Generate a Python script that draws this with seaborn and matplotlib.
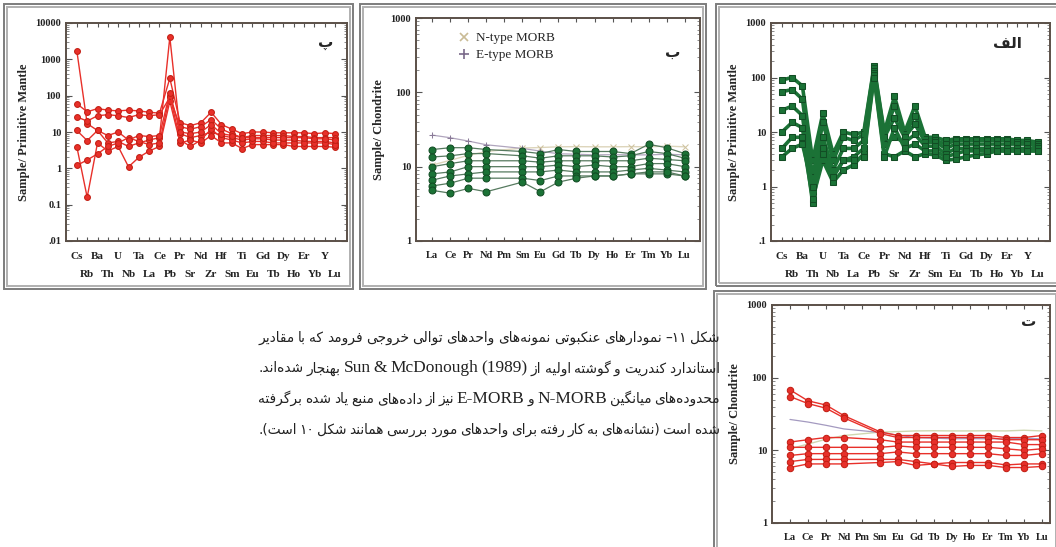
import re
import matplotlib
matplotlib.use('Agg')
import matplotlib.pyplot as plt
from matplotlib.patches import Rectangle
from matplotlib.lines import Line2D
import numpy as np
import pandas as pd
import seaborn as sns

nan = np.nan

# element order on the x axes
pm_elements = ['Cs', 'Rb', 'Ba', 'Th', 'U', 'Nb', 'Ta', 'La', 'Ce', 'Pb', 'Pr', 'Sr', 'Nd',
               'Zr', 'Hf', 'Sm', 'Ti', 'Eu', 'Gd', 'Tb', 'Dy', 'Ho', 'Er', 'Yb', 'Y', 'Lu']
ree_elements = ['La', 'Ce', 'Pr', 'Nd', 'Pm', 'Sm', 'Eu', 'Gd', 'Tb', 'Dy', 'Ho', 'Er', 'Tm', 'Yb', 'Lu']

# panel "pe" - sample / primitive mantle (red)
pe_samples = [
    [1700, 17, 11, 5, 5.5, 4, 5, 6, 7, 4100, 9, 7, 8, 10, 8, 7, 6, 6.5, 6.5, 6, 6, 6, 5.5, 5.5, 5.5, 5],
    [60, 36, 44, 40, 38, 40, 38, 35, 33, 300, 18, 15, 18, 35, 16, 12, 9, 10, 10, 9.5, 9.5, 9.5, 9.5, 9, 9.5, 9],
    [26, 20, 28, 30, 28, 25, 30, 28, 30, 90, 14, 12, 14, 22, 12, 9, 7, 8, 8, 8, 8, 7.5, 7.5, 7, 7, 7],
    [3.9, 0.16, 5, 3, 4, 1.1, 2, 3, 4, 70, 5, 6, 5, 8, 5, 5, 3.5, 4.5, 4.5, 4.5, 4.5, 4, 4, 4, 4, 3.8],
    [1.2, 1.7, 2.5, 4, 5, 7, 5.5, 4.5, 5, 100, 6, 4, 6, 12, 7, 6, 5, 5.5, 5.5, 5, 5, 5, 5, 5, 5, 4.5],
    [11, 5.8, 11, 8, 10, 6, 8, 7.5, 8, 120, 10, 9, 10, 16, 9, 8, 7, 7, 7, 7, 7, 7, 7, 6.5, 6.5, 6],
]

# panel "be" - sample / chondrite (green)
be_samples = [
    [17, 18, 18, 17, nan, 16, 15, 17, 16, 16, 16, 15, 20, 18, 15],
    [13.5, 14, 15, 15, nan, 14, 13, 14, 14, 14, 13.5, 14, 16, 15, 13],
    [10, 11, 12, 12, nan, 12, 11.5, 12, 12, 12, 12, 12, 13, 12.5, 12],
    [8, 8.5, 10, 10, nan, 10, 10, 10.5, 10, 10.5, 10, 10, 11, 11, 10],
    [6.6, 7.5, 8, 8.5, nan, 8.5, 8.5, 9, 8.5, 8.5, 8.5, 9, 9.5, 9, 8.5],
    [5.5, 6, 7, 7, nan, 7, 6.5, 7.5, 7.5, 7.5, 7.5, 8, 8, 8, 7.5],
    [4.8, 4.4, 5.1, 4.6, nan, 6.2, 4.6, 6.2, 7, 7.5, 7.5, 8, 8.5, 8.5, 7.5],
]
n_morb = [10.5, 12.2, 14.2, 16.0, nan, 17.8, 18.1, 18.5, 18.6, 18.5, 18.5, 18.6, 18.5, 18.9, 18.5]
e_morb = [26.6, 24.5, 22.1, 19.7, nan, 17.6, 16.2, 14.9, 14.7, 14.4, 14.5, 14.4, 14.4, 14.7, 14.4]

# panel "alef" - sample / primitive mantle (green squares)
alef_samples = [
    [90, 100, 70, 3, 22, 4, 10, 9, 10, 160, 10, 45, 10, 30, 8, 8, 7, 7.5, 7.5, 7.5, 7.5, 7.5, 7.5, 7, 7, 6.5],
    [55, 60, 40, 1.5, 15, 3, 8, 7, 9, 150, 9, 30, 9, 20, 7.5, 7, 6, 7, 7, 7, 7, 7, 7, 6.5, 6.5, 6],
    [25, 30, 20, 0.8, 8, 2, 5, 5, 7, 130, 8, 18, 8, 14, 6.5, 6.5, 5, 6, 6, 6, 6, 6, 6, 6, 6, 5.5],
    [10, 15, 12, 0.5, 5, 1.5, 3, 3.5, 5, 120, 6, 8, 6.5, 9, 5.5, 5.5, 4, 5, 5, 5, 5, 5, 5, 5, 5, 5],
    [5, 8, 8, 0.6, 3, 1.2, 2, 2.5, 4, 110, 4, 3.5, 4.5, 3.5, 4, 3.8, 3, 3.2, 3.5, 3.8, 4, 4.5, 4.5, 4.5, 4.5, 4.5],
    [3.5, 5, 6, 1, 4, 1.5, 3, 3, 3.5, 100, 3.5, 12, 5, 6, 4.5, 4.5, 3.5, 4, 4.5, 4.5, 4.5, 4.5, 4.5, 4.5, 4.5, 4.5],
]

# panel "te" - sample / chondrite (red)
te_samples = [
    [68, 48, 42, 30, nan, 18, 16, 16, 16, 16, 16, 16, 15, 15, 16],
    [55, 44, 38, 28, nan, 17, 15, 15, 15, 15, 15, 15, 14, 14, 14],
    [13, 14, 15, 15, nan, 14, 13, 13, 13, 13, 13, 13, 13, 12, 12],
    [11, 11, 11, 11, nan, 11, 11.5, 11, 11, 11, 11, 11, 10.5, 10, 10.5],
    [8.5, 9, 9, 9, nan, 9, 9.5, 9, 9, 9, 9, 9, 8.5, 8.5, 9],
    [7, 7.5, 7.5, 7.5, nan, 7.5, 7.5, 7, 6.5, 6.8, 6.8, 6.8, 6.3, 6.5, 6.5],
    [5.8, 6.5, 6.5, 6.5, nan, 6.8, 7, 6.2, 6.5, 6, 6.2, 6.2, 5.8, 5.8, 6],
]

caption = [
    'شکل ۱۱– نمودارهای عنکبوتی نمونه‌های واحدهای توالی خروجی فرومد که با مقادیر',
    'استاندارد کندریت و گوشته اولیه از Sun & McDonough (1989) بهنجار شده‌اند.',
    'محدوده‌های میانگین N-MORB و E-MORB نیز از داده‌های منبع یاد شده برگرفته',
    'شده است (نشانه‌های به کار رفته برای واحدهای مورد بررسی همانند شکل ۱۰ است).',
]

# --- minimal Persian shaping + right-to-left ordering for matplotlib ---
FORMS = {'ا': (0xFE8D, 2), 'آ': (0xFE81, 2), 'ب': (0xFE8F, 4), 'پ': (0xFB56, 4), 'ت': (0xFE95, 4),
         'ث': (0xFE99, 4), 'ج': (0xFE9D, 4), 'چ': (0xFB7A, 4), 'ح': (0xFEA1, 4), 'خ': (0xFEA5, 4),
         'د': (0xFEA9, 2), 'ذ': (0xFEAB, 2), 'ر': (0xFEAD, 2), 'ز': (0xFEAF, 2), 'ژ': (0xFB8A, 2),
         'س': (0xFEB1, 4), 'ش': (0xFEB5, 4), 'ص': (0xFEB9, 4), 'ض': (0xFEBD, 4), 'ط': (0xFEC1, 4),
         'ظ': (0xFEC5, 4), 'ع': (0xFEC9, 4), 'غ': (0xFECD, 4), 'ف': (0xFED1, 4), 'ق': (0xFED5, 4),
         'ک': (0xFB8E, 4), 'گ': (0xFB92, 4), 'ل': (0xFEDD, 4), 'م': (0xFEE1, 4), 'ن': (0xFEE5, 4),
         'و': (0xFEED, 2), 'ه': (0xFEE9, 4), 'ی': (0xFBFC, 4)}
LTR = re.compile(r'[A-Za-z0-9\u06F0-\u06F9](?:[A-Za-z0-9\u06F0-\u06F9&().\- ]*[A-Za-z0-9\u06F0-\u06F9)])?')


def shape(s):
    out = []
    for i, c in enumerate(s):
        if c not in FORMS:
            out.append(c)
            continue
        base, n = FORMS[c]
        prev = s[i - 1] if i > 0 else ''
        nxt = s[i + 1] if i + 1 < len(s) else ''
        jp = prev in FORMS and FORMS[prev][1] == 4
        jn = n == 4 and nxt in FORMS
        k = (3 if jn else 1) if jp else (2 if jn else 0)
        out.append(chr(base + k))
    return ''.join(out).replace('\u200c', '')


def visual(line):
    s = shape(line)
    mirror = str.maketrans('()', ')(')
    parts, pos = [], 0
    for m in LTR.finditer(s):
        parts.append(s[pos:m.start()][::-1].translate(mirror))
        parts.append(m.group())
        pos = m.end()
    parts.append(s[pos:][::-1].translate(mirror))
    return ''.join(parts[::-1])


sns.set_style('ticks')
plt.rcParams['font.family'] = ['DejaVu Sans']
W, H = 1056, 547
fig = plt.figure(figsize=(W / 100, H / 100), dpi=100)
fig.patch.set_facecolor('white')

RED = '#e8302a'
GREEN = '#1b7236'
SERIF = 'Liberation Serif'


def px_axes(left, top, right, bottom):
    return fig.add_axes([left / W, 1 - bottom / H, (right - left) / W, (bottom - top) / H])


def spider(ax, samples, color, marker, ms, lw, mec, line_color=None):
    rows = [(i, v, s) for s, vals in enumerate(samples) for i, v in enumerate(vals)]
    df = pd.DataFrame(rows, columns=['pos', 'value', 'sample']).dropna()
    sns.lineplot(data=df, x='pos', y='value', units='sample', estimator=None,
                 color=line_color or color, lw=lw, marker=marker, markersize=ms,
                 markerfacecolor=color, markeredgecolor=mec, ax=ax, legend=False)


def style_axes(ax, elems, xlim, ylim, yticks, ylabels, ylabel, two_rows):
    ax.set_yscale('log')
    ax.set_xlim(*xlim)
    ax.set_ylim(*ylim)
    ax.set_yticks(yticks)
    ax.set_yticklabels(ylabels, family=SERIF, fontweight='bold', fontsize=7.5)
    n = len(elems)
    if two_rows:
        ax.set_xticks(range(0, n, 2))
        ax.set_xticklabels(elems[0::2], family=SERIF, fontweight='bold', fontsize=8)
        ax.set_xticks(range(1, n, 2), minor=True)
        ax.set_xticklabels(elems[1::2], minor=True, family=SERIF, fontweight='bold', fontsize=8)
        ax.tick_params(axis='x', which='major', pad=8)
        ax.tick_params(axis='x', which='minor', pad=21)
    else:
        ax.set_xticks(range(n))
        ax.set_xticklabels(elems, family=SERIF, fontweight='bold', fontsize=7.5)
        ax.tick_params(axis='x', which='major', pad=7)
    ax.tick_params(axis='x', which='both', direction='in', length=3, width=0.8,
                   top=True, bottom=True, colors='#555', labelcolor='#222')
    ax.tick_params(axis='y', which='major', direction='in', length=4, width=0.8,
                   left=True, right=True, colors='#555', labelcolor='#222')
    ax.tick_params(axis='y', which='minor', direction='in', length=2, width=0.6,
                   left=True, right=True, colors='#777')
    ax.set_xlabel('')
    ax.set_ylabel(ylabel, family=SERIF, fontweight='bold', fontsize=9, labelpad=4)
    for sp in ax.spines.values():
        sp.set_color('#5b5048')
        sp.set_linewidth(1.4)


def panel_letter(ax, text, x, y):
    fig.text(x / W, 1 - y / H, visual(text), fontsize=11, fontweight='bold',
             ha='right', va='center', family='DejaVu Sans')


# panel pe (left)
ax1 = px_axes(66, 23, 347, 241)
spider(ax1, pe_samples, RED, 'o', 4.2, 1.0, '#c21f14')
style_axes(ax1, pm_elements, (-1.05, 26.15), (0.01, 10000),
           [0.01, 0.1, 1, 10, 100, 1000, 10000], ['.01', '0.1', '1', '10', '100', '1000', '10000'],
           'Sample/ Primitive Mantle', True)
panel_letter(ax1, 'پ', 333, 42)

# panel be (middle)
ax2 = px_axes(416, 18, 700, 241)
sns.lineplot(x=range(15), y=n_morb, color='#ddd5bb', lw=1.0, marker='x', markersize=4,
             markeredgecolor='#cfc3a0', ax=ax2, legend=False)
sns.lineplot(x=range(15), y=e_morb, color='#b0a5bd', lw=0.9, marker='+', markersize=5,
             markeredgecolor='#8a7a98', ax=ax2, legend=False)
spider(ax2, be_samples, GREEN, 'o', 5.0, 0.9, '#124d24', line_color='#567a5f')
style_axes(ax2, ree_elements, (-0.9, 14.85), (1, 1000), [1, 10, 100, 1000],
           ['1', '10', '100', '1000'], 'Sample/ Chondrite', False)
handles = [Line2D([], [], ls='none', marker='x', color='#c9bb95', markersize=6, mew=1.2),
           Line2D([], [], ls='none', marker='+', color='#7a6a8a', markersize=7, mew=1.2)]
ax2.legend(handles, ['N-type MORB', 'E-type MORB'], loc='upper left', bbox_to_anchor=(0.1, 0.99),
           frameon=False, prop={'family': SERIF, 'size': 9.5}, handletextpad=0.3,
           labelspacing=0.35, handlelength=1.2)
panel_letter(ax2, 'ب', 680, 52)

# panel alef (right top)
ax3 = px_axes(771, 23, 1050, 241)
spider(ax3, alef_samples, GREEN, 's', 4.0, 2.6, '#124d24')
style_axes(ax3, pm_elements, (-1.07, 26.2), (0.1, 1000), [0.1, 1, 10, 100, 1000],
           ['.1', '1', '10', '100', '1000'], 'Sample/ Primitive Mantle', True)
panel_letter(ax3, 'الف', 1022, 44)

# panel te (bottom right)
ax4 = px_axes(772, 305, 1050, 523)
sns.lineplot(x=range(15), y=n_morb, color='#cfd7b0', lw=1.0, ax=ax4, legend=False)
sns.lineplot(x=range(15), y=e_morb, color='#a49ac0', lw=0.9, ax=ax4, legend=False)
spider(ax4, te_samples, RED, 'o', 4.6, 1.0, '#c21f14')
style_axes(ax4, ree_elements, (-1.0, 14.45), (1, 1000), [1, 10, 100, 1000],
           ['1', '10', '100', '1000'], 'Sample/ Chondrite', False)
panel_letter(ax4, 'ت', 1036, 322)

# grey double frames around each panel
for (x, y, w, h) in [(4, 4, 349, 285), (360, 4, 346, 285), (716, 4, 345, 282), (714, 291, 345, 260)]:
    for off, col in [(0, '#7d7d7d'), (3, '#b0b0b0')]:
        fig.add_artist(Rectangle(((x + off) / W, 1 - (y + h - off) / H), (w - 2 * off) / W,
                                 (h - 2 * off) / H, transform=fig.transFigure, fill=False,
                                 ec=col, lw=1.4))

# justified right-to-left caption
renderer = fig.canvas.get_renderer()
cap_left, cap_right = 258, 720
for k, line in enumerate(caption):
    words = visual(line).split(' ')
    yb = 1 - (342 + 30.5 * k) / H
    texts = []
    for w in words:
        latin = re.search('[A-Za-z0-9&]', w) is not None
        texts.append(fig.text(0, yb, w, family=SERIF if latin else 'DejaVu Sans',
                              fontsize=12.5 if latin else 9.9, va='baseline', color='#222'))
    widths = [t.get_window_extent(renderer).width for t in texts]
    gap = max(2.0, (cap_right - cap_left - sum(widths)) / (len(words) - 1))
    x = cap_right - sum(widths) - gap * (len(words) - 1)
    for t, wd in zip(texts, widths):
        t.set_x(x / W)
        x += wd + gap

fig.savefig('out.png', dpi=100, facecolor='white')
